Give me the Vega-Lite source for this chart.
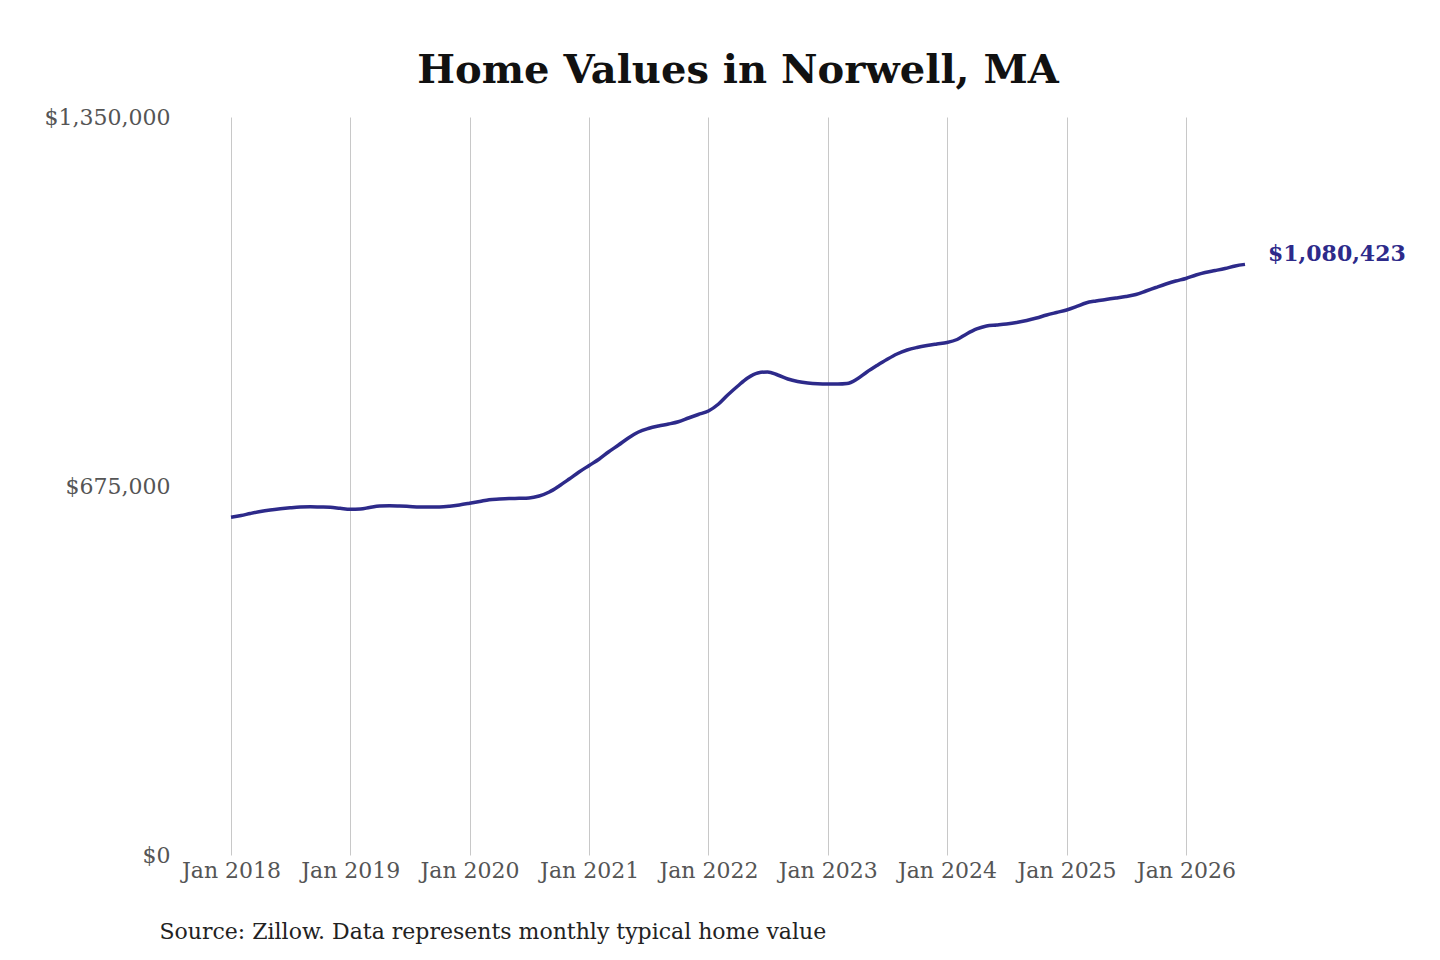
{
  "$schema": "https://vega.github.io/schema/vega-lite/v6.json",
  "width": 1014,
  "height": 738,
  "autosize": "none",
  "padding": {"left": 231, "top": 117, "right": 195, "bottom": 105},
  "background": "white",
  "title": {
    "text": "Home Values in Norwell, MA",
    "font": "DejaVu Serif",
    "fontSize": 40,
    "fontWeight": "bold",
    "color": "#111111",
    "anchor": "middle",
    "offset": 15
  },
  "config": {
    "view": {"stroke": null},
    "font": "DejaVu Serif",
    "axis": {
      "labelFont": "DejaVu Serif",
      "labelFontSize": 22,
      "labelColor": "#555555",
      "domain": false,
      "ticks": false
    }
  },
  "data": {
    "values": [
      {"date": "2018-01-01", "value": 617800},
      {"date": "2018-02-01", "value": 621000},
      {"date": "2018-03-01", "value": 624700},
      {"date": "2018-04-01", "value": 628400},
      {"date": "2018-05-01", "value": 631100},
      {"date": "2018-06-01", "value": 633300},
      {"date": "2018-07-01", "value": 635100},
      {"date": "2018-08-01", "value": 636600},
      {"date": "2018-09-01", "value": 637100},
      {"date": "2018-10-01", "value": 636600},
      {"date": "2018-11-01", "value": 636000},
      {"date": "2018-12-01", "value": 634200},
      {"date": "2019-01-01", "value": 632400},
      {"date": "2019-02-01", "value": 632900},
      {"date": "2019-03-01", "value": 635700},
      {"date": "2019-04-01", "value": 638400},
      {"date": "2019-05-01", "value": 639000},
      {"date": "2019-06-01", "value": 638400},
      {"date": "2019-07-01", "value": 637500},
      {"date": "2019-08-01", "value": 636600},
      {"date": "2019-09-01", "value": 636600},
      {"date": "2019-10-01", "value": 636600},
      {"date": "2019-11-01", "value": 637900},
      {"date": "2019-12-01", "value": 640300},
      {"date": "2020-01-01", "value": 643400},
      {"date": "2020-02-01", "value": 646700},
      {"date": "2020-03-01", "value": 650000},
      {"date": "2020-04-01", "value": 651200},
      {"date": "2020-05-01", "value": 652100},
      {"date": "2020-06-01", "value": 652500},
      {"date": "2020-07-01", "value": 653100},
      {"date": "2020-08-01", "value": 656700},
      {"date": "2020-09-01", "value": 664000},
      {"date": "2020-10-01", "value": 675000},
      {"date": "2020-11-01", "value": 687800},
      {"date": "2020-12-01", "value": 700600},
      {"date": "2021-01-01", "value": 712500},
      {"date": "2021-02-01", "value": 724400},
      {"date": "2021-03-01", "value": 737200},
      {"date": "2021-04-01", "value": 750000},
      {"date": "2021-05-01", "value": 762800},
      {"date": "2021-06-01", "value": 773800},
      {"date": "2021-07-01", "value": 780200},
      {"date": "2021-08-01", "value": 784800},
      {"date": "2021-09-01", "value": 788400},
      {"date": "2021-10-01", "value": 792600},
      {"date": "2021-11-01", "value": 799400},
      {"date": "2021-12-01", "value": 805800},
      {"date": "2022-01-01", "value": 812200},
      {"date": "2022-02-01", "value": 825000},
      {"date": "2022-03-01", "value": 841500},
      {"date": "2022-04-01", "value": 858000},
      {"date": "2022-05-01", "value": 872600},
      {"date": "2022-06-01", "value": 881700},
      {"date": "2022-07-01", "value": 883600},
      {"date": "2022-08-01", "value": 878100},
      {"date": "2022-09-01", "value": 870800},
      {"date": "2022-10-01", "value": 866200},
      {"date": "2022-11-01", "value": 863400},
      {"date": "2022-12-01", "value": 862000},
      {"date": "2023-01-01", "value": 861600},
      {"date": "2023-02-01", "value": 861600},
      {"date": "2023-03-01", "value": 862500},
      {"date": "2023-04-01", "value": 870800},
      {"date": "2023-05-01", "value": 883600},
      {"date": "2023-06-01", "value": 895500},
      {"date": "2023-07-01", "value": 906400},
      {"date": "2023-08-01", "value": 916500},
      {"date": "2023-09-01", "value": 923800},
      {"date": "2023-10-01", "value": 928400},
      {"date": "2023-11-01", "value": 932000},
      {"date": "2023-12-01", "value": 934800},
      {"date": "2024-01-01", "value": 937500},
      {"date": "2024-02-01", "value": 943000},
      {"date": "2024-03-01", "value": 953100},
      {"date": "2024-04-01", "value": 962200},
      {"date": "2024-05-01", "value": 967700},
      {"date": "2024-06-01", "value": 969500},
      {"date": "2024-07-01", "value": 971400},
      {"date": "2024-08-01", "value": 974100},
      {"date": "2024-09-01", "value": 977800},
      {"date": "2024-10-01", "value": 982300},
      {"date": "2024-11-01", "value": 987800},
      {"date": "2024-12-01", "value": 992400},
      {"date": "2025-01-01", "value": 997000},
      {"date": "2025-02-01", "value": 1003400},
      {"date": "2025-03-01", "value": 1009800},
      {"date": "2025-04-01", "value": 1013500},
      {"date": "2025-05-01", "value": 1016200},
      {"date": "2025-06-01", "value": 1018900},
      {"date": "2025-07-01", "value": 1021700},
      {"date": "2025-08-01", "value": 1025400},
      {"date": "2025-09-01", "value": 1031700},
      {"date": "2025-10-01", "value": 1038100},
      {"date": "2025-11-01", "value": 1044500},
      {"date": "2025-12-01", "value": 1050000},
      {"date": "2026-01-01", "value": 1054600},
      {"date": "2026-02-01", "value": 1061000},
      {"date": "2026-03-01", "value": 1065600},
      {"date": "2026-04-01", "value": 1069200},
      {"date": "2026-05-01", "value": 1072900},
      {"date": "2026-06-01", "value": 1077500},
      {"date": "2026-07-01", "value": 1080423}
    ]
  },
  "encoding": {
    "x": {
      "field": "date",
      "type": "temporal",
      "scale": {"type": "utc", "nice": false},
      "axis": {
        "format": "%b %Y",
        "tickCount": {"interval": "year", "step": 1},
        "grid": true,
        "gridColor": "#c8c8c8",
        "gridWidth": 1,
        "labelPadding": 5,
        "labelBaseline": "top",
        "labelFlush": false,
        "title": "Source: Zillow. Data represents monthly typical home value",
        "titleFont": "DejaVu Serif",
        "titleFontSize": 22,
        "titleFontWeight": "normal",
        "titleColor": "#222222",
        "titleAnchor": "start",
        "titleAlign": "left",
        "titleBaseline": "middle",
        "titleX": -72,
        "titleY": 76
      }
    },
    "y": {
      "field": "value",
      "type": "quantitative",
      "scale": {"domain": [0, 1350000], "nice": false},
      "axis": {
        "values": [0, 675000, 1350000],
        "format": "$,.0f",
        "grid": false,
        "labelPadding": 61,
        "labelBaseline": "middle",
        "title": null
      }
    }
  },
  "layer": [
    {
      "mark": {"type": "line", "interpolate": "monotone", "color": "#2d2a8a", "strokeWidth": 3.5}
    },
    {
      "transform": [{"filter": "datum.value == 1080423"}],
      "mark": {
        "type": "text",
        "align": "left",
        "baseline": "middle",
        "dx": 23,
        "dy": -10,
        "fontSize": 22,
        "fontWeight": "bold",
        "font": "DejaVu Serif",
        "color": "#2d2a8a"
      },
      "encoding": {
        "text": {"field": "value", "type": "quantitative", "format": "$,.0f"}
      }
    }
  ]
}
